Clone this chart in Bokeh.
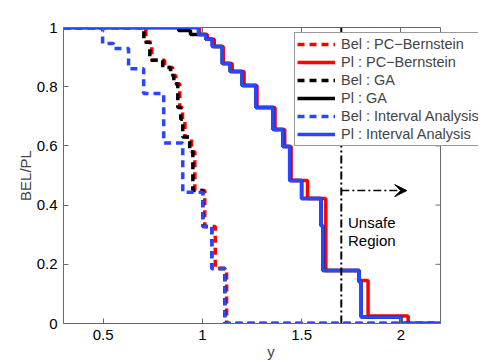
import math
from bokeh.plotting import figure
from bokeh.models import (Range1d, LinearAxis, FixedTicker, CustomJSTickFormatter,
                          Legend, LegendItem, Arrow, VeeHead, Span, Label)
from bokeh.embed import file_html
from bokeh.resources import INLINE

# ---- data ----
bel_pc_x = [0.30, 0.715, 0.745, 0.81, 0.85, 0.866, 0.886, 0.90, 0.912, 0.945, 0.962, 1.012, 1.065, 1.122, 2.20]
bel_pc_y = [1.00, 0.95, 0.889, 0.865, 0.838, 0.81, 0.73, 0.69, 0.63, 0.58, 0.449, 0.328, 0.186, 0.0, 0.0]

pl_pc_x = [0.30, 0.985, 1.025, 1.06, 1.105, 1.15, 1.21, 1.275, 1.366, 1.415, 1.447, 1.53, 1.622, 1.79, 1.835, 2.037, 2.20]
pl_pc_y = [1.00, 0.976, 0.96, 0.936, 0.878, 0.851, 0.804, 0.73, 0.655, 0.598, 0.483, 0.422, 0.179, 0.145, 0.025, 0.0, 0.0]

bel_ga_x = [0.30, 0.705, 0.735, 0.80, 0.84, 0.856, 0.876, 0.891, 0.901, 0.936, 0.952, 1.002, 1.047, 1.113, 2.20]
bel_ga_y = [1.00, 0.95, 0.889, 0.865, 0.838, 0.81, 0.73, 0.69, 0.63, 0.58, 0.449, 0.328, 0.186, 0.0, 0.0]

pl_ga_x = [0.30, 0.88, 0.94, 1.017, 1.05, 1.10, 1.14, 1.20, 1.27, 1.356, 1.406, 1.44, 1.50, 1.598, 1.607, 1.79, 1.80, 2.00, 2.20]
pl_ga_y = [1.00, 0.99, 0.976, 0.96, 0.936, 0.878, 0.851, 0.804, 0.73, 0.655, 0.598, 0.483, 0.422, 0.33, 0.179, 0.14, 0.022, 0.0, 0.0]

bel_ia_x = [0.30, 0.497, 0.553, 0.628, 0.704, 0.805, 0.901, 1.002, 1.047, 1.113, 2.20]
bel_ia_y = [1.00, 0.946, 0.929, 0.861, 0.777, 0.61, 0.443, 0.328, 0.186, 0.0, 0.0]

pl_ia_x = [0.30, 0.98, 1.017, 1.05, 1.10, 1.14, 1.20, 1.27, 1.356, 1.406, 1.44, 1.50, 1.598, 1.607, 1.79, 1.80, 2.00, 2.20]
pl_ia_y = [1.00, 0.976, 0.96, 0.936, 0.878, 0.851, 0.804, 0.73, 0.655, 0.598, 0.483, 0.422, 0.33, 0.179, 0.14, 0.022, 0.0, 0.0]

x_min, x_max = 0.3, 2.2
y_min, y_max = 0.0, 1.0
unsafe_threshold = 1.7
arrow_level = 0.449
arrow_tip = 2.03
unsafe_text_x = 1.734
unsafe_text_y = [0.341, 0.280]
unsafe_text = ["Unsafe", "Region"]

x_ticks = [0.5, 1.0, 1.5, 2.0]
y_ticks = [0, 0.2, 0.4, 0.6, 0.8, 1.0]

FONT = "Liberation Sans"
AXC = "#6a6a6a"
RED = "#ff0000"
BLK = "#000000"
BLU = "#2846ff"

# frame runs a little past the axes box so the legend can overhang it
FRAME_L, FRAME_R, FRAME_T, FRAME_B = 63, 478, 27, 323
BOX_R = 440
px_per_unit = (BOX_R - FRAME_L) / (x_max - x_min)
x_end = x_min + (FRAME_R - FRAME_L) / px_per_unit

W, H = 485, 364
p = figure(width=W, height=H, output_backend="svg", toolbar_location=None,
           x_range=Range1d(x_min, x_end), y_range=Range1d(y_min, y_max),
           x_axis_type=None, y_axis_type=None,
           min_border_left=FRAME_L, min_border_right=W - FRAME_R,
           min_border_top=FRAME_T, min_border_bottom=H - FRAME_B)
p.outline_line_color = None
p.background_fill_color = "white"
p.border_fill_color = "white"
p.xgrid.visible = False
p.ygrid.visible = False

fmt = CustomJSTickFormatter(code="return parseFloat(tick.toFixed(2)).toString();")

def style_axis(ax, labels=True):
    ax.axis_line_color = AXC
    ax.major_tick_line_color = AXC
    ax.major_tick_in = 5
    ax.major_tick_out = 0
    ax.minor_tick_line_color = None
    ax.major_label_text_font = FONT
    ax.major_label_text_font_size = "15px"
    ax.major_label_text_color = "black"
    ax.axis_label_text_font = FONT
    ax.axis_label_text_font_size = "15px"
    ax.axis_label_text_font_style = "normal"
    if not labels:
        ax.major_label_text_alpha = 0
        ax.major_label_text_font_size = "1px"
        ax.major_label_standoff = 0

xb = LinearAxis(ticker=FixedTicker(ticks=x_ticks), formatter=fmt, axis_label="y",
                bounds=(x_min, x_max))
style_axis(xb)
xb.major_label_standoff = 6
xb.axis_label_standoff = 0
p.add_layout(xb, "below")

yl = LinearAxis(ticker=FixedTicker(ticks=y_ticks), formatter=fmt, axis_label="BEL/PL")
style_axis(yl)
yl.major_label_standoff = 6
yl.axis_label_standoff = 0
p.add_layout(yl, "left")

xt = LinearAxis(ticker=FixedTicker(ticks=x_ticks), formatter=fmt, bounds=(x_min, x_max))
style_axis(xt, labels=False)
p.add_layout(xt, "above")

# right edge of the axes box with inward ticks
p.add_layout(Span(location=x_max, dimension="height", line_color=AXC, line_width=1))
p.ray(x=[x_max] * len(y_ticks), y=y_ticks, length=5, length_units="screen",
      angle=math.pi, line_color=AXC, line_width=1)

LW = 3.5
DASH = "7 5"
r1 = p.step(bel_pc_x, bel_pc_y, mode="after", line_color=RED, line_width=LW, line_dash=DASH)
r2 = p.step(pl_pc_x, pl_pc_y, mode="after", line_color=RED, line_width=LW)
r3 = p.step(bel_ga_x, bel_ga_y, mode="after", line_color=BLK, line_width=LW, line_dash=DASH)
r4 = p.step(pl_ga_x, pl_ga_y, mode="after", line_color=BLK, line_width=LW)
r5 = p.step(bel_ia_x, bel_ia_y, mode="after", line_color=BLU, line_width=LW, line_dash=DASH)
r6 = p.step(pl_ia_x, pl_ia_y, mode="after", line_color=BLU, line_width=LW)

p.add_layout(Span(location=unsafe_threshold, dimension="height", line_color="black",
                  line_width=2, line_dash="8 3 2 3"))

p.add_layout(Arrow(end=VeeHead(size=12, fill_color="black", line_color="black"),
                   x_start=unsafe_threshold, y_start=arrow_level,
                   x_end=arrow_tip, y_end=arrow_level,
                   line_color="black", line_width=1.5, line_dash="8 3 2 3"))

for t, ty in zip(unsafe_text, unsafe_text_y):
    p.add_layout(Label(x=unsafe_text_x, y=ty, text=t, text_font=FONT,
                       text_font_size="15px", text_color="black",
                       text_baseline="alphabetic"))

legend = Legend(items=[
    LegendItem(label="Bel : PC\u2212Bernstein", renderers=[r1]),
    LegendItem(label="Pl : PC\u2212Bernstein", renderers=[r2]),
    LegendItem(label="Bel : GA", renderers=[r3]),
    LegendItem(label="Pl : GA", renderers=[r4]),
    LegendItem(label="Bel : Interval Analysis", renderers=[r5]),
    LegendItem(label="Pl : Interval Analysis", renderers=[r6]),
], location=(294 - FRAME_L, FRAME_B - 146))
legend.label_text_font = FONT
legend.label_text_font_size = "14.5px"
legend.glyph_width = 38
legend.glyph_height = 18
legend.label_height = 18
legend.spacing = 0
legend.padding = 2
legend.margin = 0
legend.label_standoff = 6
legend.border_line_color = "#333333"
legend.border_line_width = 1
legend.background_fill_alpha = 1
p.add_layout(legend, "center")

open("out.html", "w").write(file_html(p, INLINE))
